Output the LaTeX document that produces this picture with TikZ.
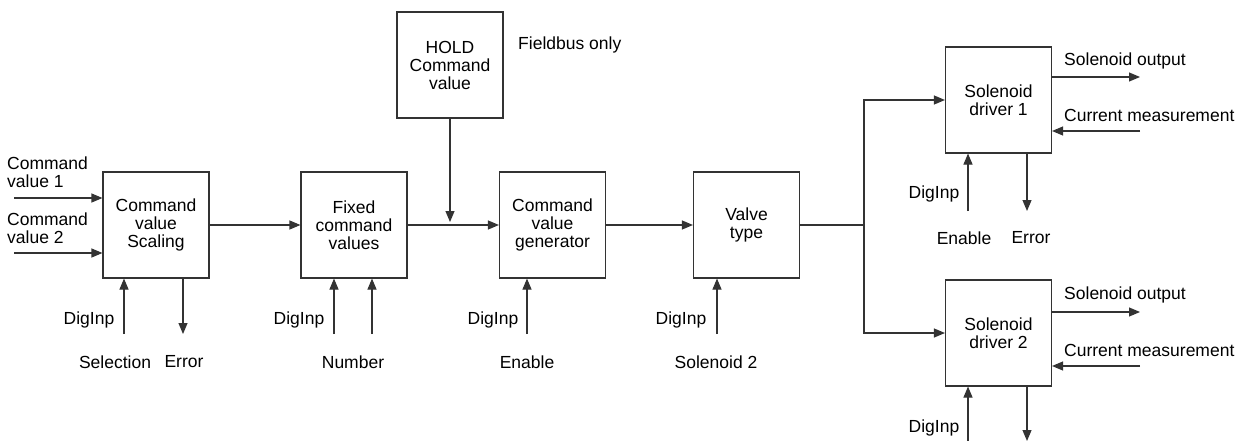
\documentclass[tikz,border=0pt]{standalone}
\usepackage{fontspec}
\setmainfont{Liberation Sans}
\usetikzlibrary{arrows.meta,positioning}
\tikzset{
	block/.style={draw=black!80, line width=1.1pt, minimum width=106pt, minimum height=106pt, inner sep=0pt, align=center},
	arr/.style={draw=black!80, line width=1.1pt, -{Triangle[length=11pt,width=9pt]}},
	wire/.style={draw=black!80, line width=1.1pt},
	lbl/.style={inner sep=0pt, align=left}
}
\begin{document}
\begin{tikzpicture}[x=1pt, y=-1pt, font=\fontsize{17.5}{18}\selectfont]
	\useasboundingbox (0,0) rectangle (1238,441);
	% blocks
	\node[block] (scal) at (156,225) {Command\\value\\Scaling};
	\node[block] (fix) at (354,225) {Fixed\\command\\values};
	\node[block] (hold) at (450,65) {HOLD\\Command\\value};
	\node[block] (gen) at (552.5,225) {Command\\value\\generator};
	\node[block] (valve) at (746.5,225) {Valve\\type};
	\node[block] (sd1) at (998.5,100) {Solenoid\\driver 1};
	\node[block] (sd2) at (998.5,333) {Solenoid\\driver 2};
	% inputs
	\coordinate (in1) at (14,198);
	\coordinate (in2) at (14,253);
	\draw[arr] (in1) -- (scal.west |- in1);
	\draw[arr] (in2) -- (scal.west |- in2);
	\node[lbl, anchor=west] (cv1) at (7,172) {Command\\value 1};
	\node[lbl, anchor=west] (cv2) at (7,228) {Command\\value 2};
	% main chain
	\coordinate (join) at (450,225);
	\draw[arr] (scal) -- (fix);
	\draw[arr] (fix) -- (gen);
	\draw[arr] (gen) -- (valve);
	\draw[arr] (hold) -- (450,222);
	\node[lbl, anchor=west] (fb) at (518,45) {Fieldbus only};
	\coordinate (split) at (864,225);
	\draw[wire] (valve) -- (split);
	\draw[arr] (split) |- (sd1);
	\draw[arr] (split) |- (sd2);
	% signals below the chain
	\coordinate (scalD) at (124,334);
	\coordinate (scalE) at (183,334);
	\draw[arr] (scalD) -- (scalD |- scal.south);
	\draw[arr] (scalE |- scal.south) -- (scalE);
	\node (scalDl) at (89,320) {DigInp};
	\node (sel) at (115,362) {Selection};
	\node (scalEl) at (184,362) {Error};
	\coordinate (fixD) at (334,334);
	\coordinate (fixN) at (372,334);
	\draw[arr] (fixD) -- (fixD |- fix.south);
	\draw[arr] (fixN) -- (fixN |- fix.south);
	\node (fixDl) at (299,320) {DigInp};
	\node (num) at (353,362) {Number};
	\coordinate (genD) at (527,334);
	\draw[arr] (genD) -- (genD |- gen.south);
	\node (genDl) at (493,320) {DigInp};
	\node (en) at (527,362) {Enable};
	\coordinate (valveD) at (717,334);
	\draw[arr] (valveD) -- (valveD |- valve.south);
	\node (valveDl) at (681,320) {DigInp};
	\node (sol2) at (716,362) {Solenoid 2};
	% solenoid driver 1
	\coordinate (out1) at (1140,77);
	\coordinate (cm1) at (1140,131);
	\draw[arr] (sd1.east |- out1) -- (out1);
	\draw[arr] (cm1) -- (sd1.east |- cm1);
	\node[lbl, anchor=west] (out1l) at (1064,61) {Solenoid output};
	\node[lbl, anchor=west] (cm1l) at (1064,115) {Current measurement};
	\coordinate (sd1D) at (968,211);
	\coordinate (sd1E) at (1027,211);
	\draw[arr] (sd1D) -- (sd1D |- sd1.south);
	\draw[arr] (sd1E |- sd1.south) -- (sd1E);
	\node (sd1Dl) at (934,194) {DigInp};
	\node (sd1En) at (964,238) {Enable};
	\node (sd1Er) at (1031,238) {Error};
	% solenoid driver 2
	\coordinate (out2) at (1140,312);
	\coordinate (cm2) at (1140,366);
	\draw[arr] (sd2.east |- out2) -- (out2);
	\draw[arr] (cm2) -- (sd2.east |- cm2);
	\node[lbl, anchor=west] (out2l) at (1064,295) {Solenoid output};
	\node[lbl, anchor=west] (cm2l) at (1064,350) {Current measurement};
	\coordinate (sd2D) at (968,441);
	\coordinate (sd2E) at (1027,441);
	\draw[arr] (sd2D) -- (sd2D |- sd2.south);
	\draw[arr] (sd2E |- sd2.south) -- (sd2E);
	\node (sd2Dl) at (934,428) {DigInp};
\end{tikzpicture}
\end{document}
